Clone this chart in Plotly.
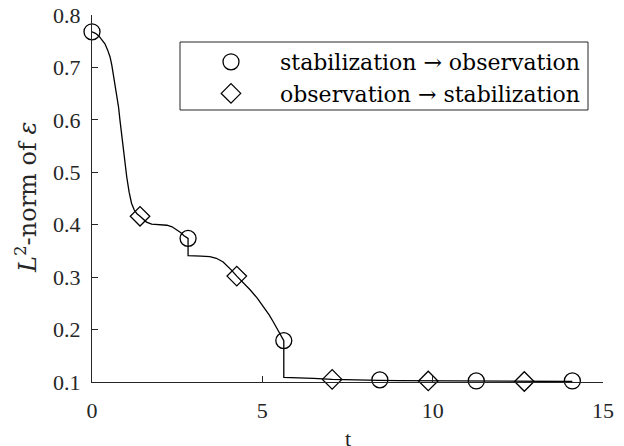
import plotly.graph_objects as go

# curve samples (t, L2-norm)
curve_t = [0.00, 0.10, 0.20, 0.30, 0.38, 0.46, 0.53, 0.58, 0.63, 0.68, 0.73, 0.78, 0.82, 0.87,
           0.92, 0.97, 1.02, 1.09, 1.16, 1.24, 1.32, 1.41,
           1.50, 1.60, 1.75, 1.90, 2.05, 2.20, 2.35, 2.50, 2.60, 2.70, 2.82,
           2.82, 3.00, 3.20, 3.46, 3.65, 3.85, 4.00, 4.10, 4.25, 4.45, 4.64, 4.85, 5.03,
           5.20, 5.32, 5.45, 5.55, 5.63,
           5.63, 6.00, 6.50, 7.05, 7.50, 8.00, 8.45, 9.00, 9.87, 11.28, 12.69, 14.10]
curve_y = [0.768, 0.765, 0.760, 0.752, 0.745, 0.733, 0.720, 0.705, 0.684, 0.665, 0.648, 0.624, 0.600, 0.571,
           0.542, 0.516, 0.491, 0.462, 0.441, 0.428, 0.421, 0.416,
           0.410, 0.405, 0.401, 0.400, 0.400, 0.399, 0.396, 0.390, 0.385, 0.379, 0.374,
           0.341, 0.340, 0.340, 0.339, 0.336, 0.329, 0.320, 0.313, 0.302, 0.289, 0.276, 0.260, 0.244,
           0.228, 0.215, 0.200, 0.189, 0.179,
           0.109, 0.1085, 0.107, 0.105, 0.104, 0.1035, 0.103, 0.1025, 0.102, 0.1015, 0.101, 0.101]

# switching events
stab_to_obs_t = [0.00, 2.82, 5.63, 8.45, 11.28, 14.10]
stab_to_obs_y = [0.768, 0.374, 0.179, 0.104, 0.102, 0.102]
obs_to_stab_t = [1.41, 4.25, 7.05, 9.87, 12.69]
obs_to_stab_y = [0.416, 0.302, 0.105, 0.102, 0.101]

x_ticks = [0, 5, 10, 15]
y_ticks = [0.1, 0.2, 0.3, 0.4, 0.5, 0.6, 0.7, 0.8]
x_title = "t"
y_title = "<i>L</i><sup>2</sup>-norm of <i>ε</i>"

AX = "#262626"
TICKFONT = "'Liberation Serif', serif"
TEXTFONT = "'DejaVu Serif', serif"

fig = go.Figure()
fig.add_trace(go.Scatter(x=curve_t, y=curve_y, mode="lines",
                         line=dict(color="black", width=1.3), showlegend=False))
fig.add_trace(go.Scatter(x=stab_to_obs_t, y=stab_to_obs_y, mode="markers",
                         name="stabilization → observation", cliponaxis=False,
                         marker=dict(symbol="circle-open", size=16, color="black",
                                     line=dict(width=1.3, color="black"))))
fig.add_trace(go.Scatter(x=obs_to_stab_t, y=obs_to_stab_y, mode="markers",
                         name="observation → stabilization", cliponaxis=False,
                         marker=dict(symbol="diamond-open", size=15, color="black",
                                     line=dict(width=1.3, color="black"))))

# page body margin is removed in post_script, so the figure fills the window
W, H = 624, 446
L, R, T, B = 92, 21, 15, 64
pw, ph = W - L - R, H - T - B

def px_x(p):
    return (p - L) / pw

def px_y(p):
    return (H - B - p) / ph

fig.add_shape(type="rect", xref="paper", yref="paper",
              x0=px_x(180), x1=px_x(588), y0=px_y(110), y1=px_y(42),
              line=dict(color=AX, width=1), fillcolor="white", layer="below")

fig.add_annotation(text=x_title, xref="paper", yref="paper", x=0.5, y=px_y(438),
                   xanchor="center", yanchor="middle", showarrow=False,
                   font=dict(size=22, family=TICKFONT, color=AX))
fig.add_annotation(text=y_title, xref="paper", yref="paper", x=px_x(26), y=px_y(198),
                   xanchor="center", yanchor="middle", showarrow=False, textangle=-90,
                   font=dict(size=24, family=TEXTFONT, color=AX))

fig.update_layout(
    width=W, height=H,
    margin=dict(l=L, r=R, t=T, b=B, autoexpand=False),
    plot_bgcolor="white", paper_bgcolor="white",
    font=dict(family=TICKFONT, color=AX, size=22),
    legend=dict(x=px_x(182), y=px_y(41), xanchor="left", yanchor="top",
                bgcolor="rgba(0,0,0,0)", borderwidth=0,
                font=dict(family=TEXTFONT, size=22, color="black"),
                itemwidth=88),
    xaxis=dict(range=[0, 15], tickvals=x_ticks, ticktext=[str(v) for v in x_ticks],
               showline=True, linecolor=AX, linewidth=1, ticks="inside", ticklen=6,
               tickcolor=AX, showgrid=False, zeroline=False, automargin=False,
               ticklabelstandoff=9, ticklabeloverflow="allow",
               tickfont=dict(size=22, family=TICKFONT, color=AX)),
    yaxis=dict(range=[0.1, 0.8], tickvals=y_ticks, ticktext=[f"{v:.1f}" for v in y_ticks],
               showline=True, linecolor=AX, linewidth=1, ticks="inside", ticklen=6,
               tickcolor=AX, showgrid=False, zeroline=False, automargin=False,
               ticklabelstandoff=6, ticklabeloverflow="allow",
               tickfont=dict(size=22, family=TICKFONT, color=AX)),
)

fig.write_html("out.html", config={"displayModeBar": False},
               post_script="document.body.style.margin='0';document.body.style.overflow='hidden';")
